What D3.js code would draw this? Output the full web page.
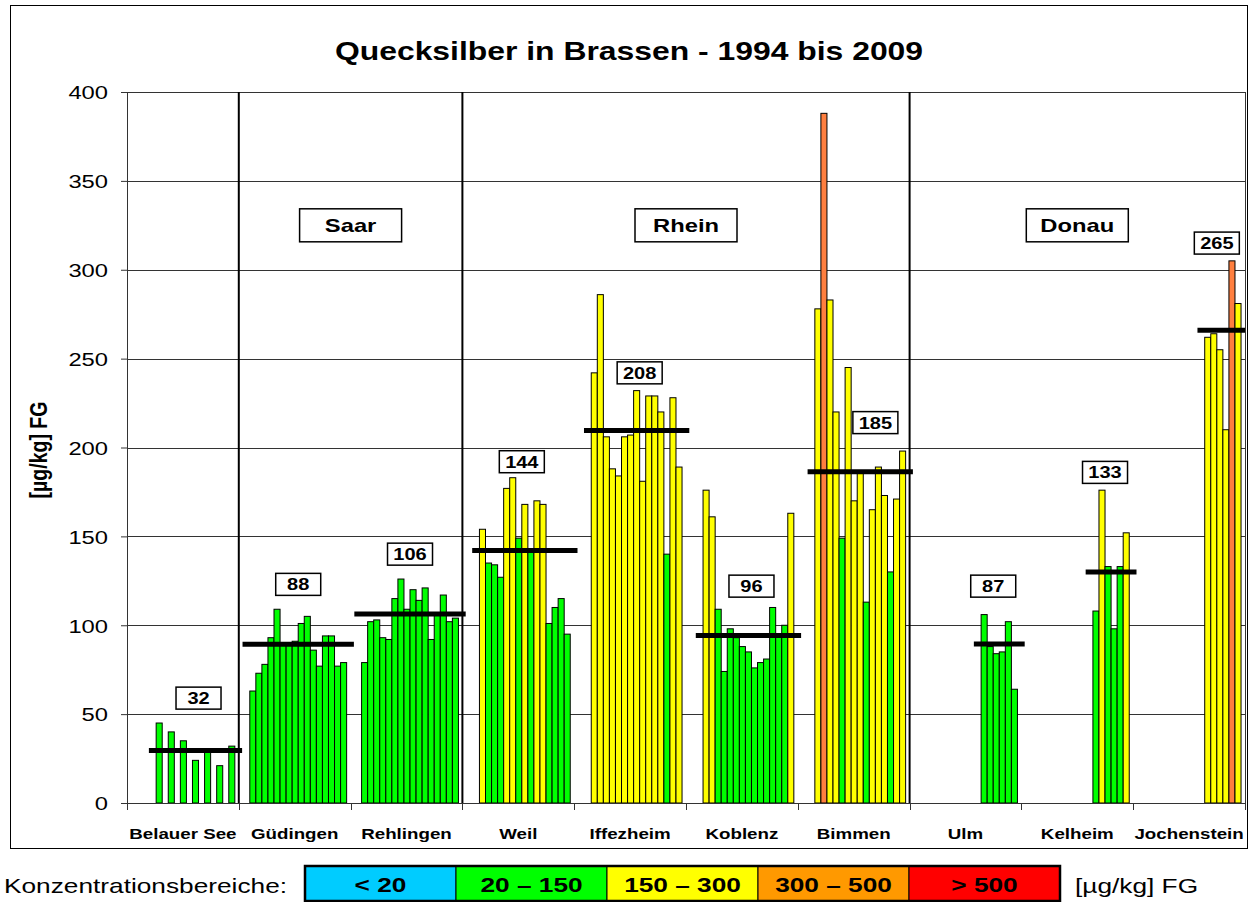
<!DOCTYPE html>
<html>
<head>
<meta charset="utf-8">
<script src="https://cdn.jsdelivr.net/npm/d3@7"></script>
<style>
  body { margin: 0; background: #fff; }
  svg text { font-family: "Liberation Sans", Arial, sans-serif; fill: #000; }
</style>
</head>
<body>
<div id="chart"></div>
<script>
const stations = ['Belauer See', 'Güdingen', 'Rehlingen', 'Weil', 'Iffezheim', 'Koblenz', 'Bimmen', 'Ulm', 'Kelheim', 'Jochenstein'];
const years = [1994, 1995, 1996, 1997, 1998, 1999, 2000, 2001, 2002, 2003, 2004, 2005, 2006, 2007, 2008, 2009];

// Hg in µg/kg FG, one value per year (null = no sample)
const belauerSee  = [null, null, null, 45, null, 40, null, 35, null, 24, null, 29, null, 21, null, 32];
const guedingen   = [63, 73, 78, 93, 109, 90, 90, 91, 101, 105, 86, 77, 94, 94, 77, 79];
const rehlingen   = [79, 102, 103, 93, 92, 115, 126, 109, 120, 114, 121, 92, 106, 117, 102, 104];
const weil        = [null, 154, 135, 134, 127, 177, 183, 149, 168, 141, 170, 168, 101, 110, 115, 95];
const iffezheim   = [null, 242, 286, 206, 188, 184, 206, 207, 232, 181, 229, 229, 220, 140, 228, 189];
const koblenz     = [null, 176, 161, 109, 74, 98, 93, 88, 85, 76, 79, 81, 110, 95, 100, 163];
const bimmen      = [null, 278, 388, 283, 220, 149, 245, 170, 186, 113, 165, 189, 173, 130, 171, 198];
const ulm         = [null, null, null, null, null, null, null, null, null, null, 106, 88, 84, 85, 102, 64];
const kelheim     = [null, null, null, null, null, null, null, null, null, null, 108, 176, 133, 98, 133, 152];
const jochenstein = [null, null, null, null, null, null, null, null, null, null, 262, 264, 255, 210, 305, 281];
const stationValues = [belauerSee, guedingen, rehlingen, weil, iffezheim, koblenz, bimmen, ulm, kelheim, jochenstein];

// black bar = mean, boxed number as printed
const meanLine  = [29.5, 89.3, 106.3, 142, 209.5, 94.3, 186.4, 89.4, 130, 266];
const meanLabel = [32, 88, 106, 144, 208, 96, 185, 87, 133, 265];
const labelYear  = [2004, 2002, 2002, 2002, 2003, 2003, 2005, 2006, 2006, 2006];
const labelLevel = [59, 123, 140, 192, 242, 122, 214, 122, 186, 315];

const rivers     = ['Saar', 'Rhein', 'Donau'];
const riverFirst = ['Güdingen', 'Weil', 'Ulm'];
const riverLast  = ['Rehlingen', 'Bimmen', 'Jochenstein'];
const riverLevel = 325;

const yTicks = [0, 50, 100, 150, 200, 250, 300, 350, 400];

const rangeLabels = ['< 20', '20 – 150', '150 – 300', '300 – 500', '> 500'];
const rangeLimits = [20, 150, 300, 500];
const rangeColors = ['#00ccff', '#00ff00', '#ffff00', '#ff9900', '#ff0000'];
const barColors   = ['#00ccff', '#00ff00', '#ffff00', '#ff7f3f', '#ff0000'];

const width = 1250, height = 902;
const plot = { left: 127, right: 1245, top: 92, bottom: 803 };
const SX = 1.25; // the original picture is stretched sideways

const svg = d3.select('#chart').append('svg')
  .attr('width', width)
  .attr('height', height);

const x = d3.scaleBand().domain(stations).range([plot.left, plot.right]);
const xYear = d3.scaleBand().domain(years).range([0, x.bandwidth()])
  .paddingOuter(1.236).align(0.735);
const y = d3.scaleLinear().domain([0, 400]).range([plot.bottom, plot.top]);
const color = d3.scaleThreshold().domain(rangeLimits).range(barColors);

function wideText(parent, px, py) {
  return parent.append('text')
    .attr('transform', `translate(${px},${py}) scale(${SX},1)`);
}

// chart frame
svg.append('rect')
  .attr('x', 10.5).attr('y', 5.5)
  .attr('width', 1237).attr('height', 843)
  .attr('fill', 'none').attr('stroke', '#000');

wideText(svg, 629, 60)
  .attr('text-anchor', 'middle')
  .attr('font-size', 25.5)
  .attr('font-weight', 'bold')
  .text('Quecksilber in Brassen - 1994 bis 2009');

// gridlines
svg.append('g').selectAll('line')
  .data(yTicks.filter(t => t > 0))
  .join('line')
  .attr('x1', plot.left).attr('x2', plot.right)
  .attr('y1', d => Math.round(y(d)) + 0.5).attr('y2', d => Math.round(y(d)) + 0.5)
  .attr('stroke', '#333').attr('stroke-width', 1);

// bars
const bars = [];
stations.forEach((s, i) => {
  years.forEach((yr, j) => {
    const v = stationValues[i][j];
    if (v != null) bars.push({ station: s, year: yr, value: v });
  });
});

svg.append('g').selectAll('rect')
  .data(bars)
  .join('rect')
  .attr('x', d => x(d.station) + xYear(d.year))
  .attr('width', xYear.bandwidth())
  .attr('y', d => y(d.value))
  .attr('height', d => y(0) - y(d.value))
  .attr('fill', d => color(d.value))
  .attr('stroke', '#000')
  .attr('stroke-width', 1);

// right border of plot
svg.append('line')
  .attr('x1', plot.right + 0.5).attr('x2', plot.right + 0.5)
  .attr('y1', plot.top).attr('y2', plot.bottom)
  .attr('stroke', '#333');

// river separators
svg.append('g').selectAll('line')
  .data(riverFirst)
  .join('line')
  .attr('x1', d => x(d)).attr('x2', d => x(d))
  .attr('y1', plot.top).attr('y2', plot.bottom)
  .attr('stroke', '#000').attr('stroke-width', 2);

// y axis
const yAxis = svg.append('g')
  .attr('transform', `translate(${plot.left},0)`)
  .call(d3.axisLeft(y).tickValues(yTicks).tickSize(6));
yAxis.select('.domain').attr('stroke', '#333');
yAxis.selectAll('line').attr('stroke', '#333');
yAxis.selectAll('text')
  .attr('x', null)
  .attr('dy', '0.36em')
  .attr('transform', `translate(-19,0) scale(${SX},1)`)
  .attr('font-size', 19)
  .attr('font-family', '"Liberation Sans", Arial, sans-serif');

svg.append('text')
  .attr('transform', `translate(47,450) scale(${SX},1) rotate(-90)`)
  .attr('text-anchor', 'middle')
  .attr('font-size', 19.5)
  .attr('font-weight', 'bold')
  .text('[µg/kg] FG');

// x axis
svg.append('line')
  .attr('x1', plot.left).attr('x2', plot.right)
  .attr('y1', plot.bottom + 0.5).attr('y2', plot.bottom + 0.5)
  .attr('stroke', '#333');
svg.append('g').selectAll('line')
  .data(stations.map(s => x(s)).concat([plot.right]))
  .join('line')
  .attr('x1', d => Math.round(d) + 0.5).attr('x2', d => Math.round(d) + 0.5)
  .attr('y1', plot.bottom).attr('y2', plot.bottom + 7)
  .attr('stroke', '#333');

const xLabels = svg.append('g');
stations.forEach(s => {
  wideText(xLabels, x(s) + x.bandwidth() / 2, 839)
    .attr('text-anchor', 'middle')
    .attr('font-size', 15)
    .attr('font-weight', 'bold')
    .text(s);
});

// mean bars and boxed numbers
const step = xYear.step();
stations.forEach((s, i) => {
  const present = years.filter((yr, j) => stationValues[i][j] != null);
  const first = present[0], last = present[present.length - 1];
  svg.append('line')
    .attr('x1', x(s) + xYear(first) - 1.2 * step)
    .attr('x2', Math.min(x(s) + xYear(last) + xYear.bandwidth() + 1.2 * step, plot.right))
    .attr('y1', y(meanLine[i])).attr('y2', y(meanLine[i]))
    .attr('stroke', '#000').attr('stroke-width', 5);

  const cx = x(s) + xYear(labelYear[i]);
  const cy = y(labelLevel[i]);
  svg.append('rect')
    .attr('x', cx - 22.5).attr('y', cy - 11)
    .attr('width', 45).attr('height', 22)
    .attr('fill', '#fff').attr('stroke', '#000').attr('stroke-width', 1.5);
  wideText(svg, cx, cy + 6)
    .attr('text-anchor', 'middle')
    .attr('font-size', 16)
    .attr('font-weight', 'bold')
    .text(meanLabel[i]);
});

// river name boxes
const riverBoxW = 102, riverBoxH = 33;
rivers.forEach((r, i) => {
  const cx = (x(riverFirst[i]) + x(riverLast[i]) + x.bandwidth()) / 2;
  const cy = y(riverLevel);
  svg.append('rect')
    .attr('x', cx - riverBoxW / 2).attr('y', cy - riverBoxH / 2)
    .attr('width', riverBoxW).attr('height', riverBoxH)
    .attr('fill', '#fff').attr('stroke', '#000').attr('stroke-width', 1.5);
  wideText(svg, cx, cy + 7)
    .attr('text-anchor', 'middle')
    .attr('font-size', 19)
    .attr('font-weight', 'bold')
    .text(r);
});

// legend
wideText(svg, 4, 893)
  .attr('font-size', 21)
  .text('Konzentrationsbereiche:');

const legend = svg.append('g').attr('transform', 'translate(305,866)');
const cellW = 151, cellH = 35;
legend.selectAll('rect')
  .data(rangeLabels)
  .join('rect')
  .attr('x', (d, i) => i * cellW).attr('y', 0)
  .attr('width', cellW).attr('height', cellH)
  .attr('fill', (d, i) => rangeColors[i])
  .attr('stroke', '#000').attr('stroke-width', 1);
legend.append('rect')
  .attr('x', 0).attr('y', 0)
  .attr('width', cellW * rangeLabels.length).attr('height', cellH)
  .attr('fill', 'none').attr('stroke', '#000').attr('stroke-width', 2.5);
rangeLabels.forEach((d, i) => {
  wideText(legend, i * cellW + cellW / 2, 26)
    .attr('text-anchor', 'middle')
    .attr('font-size', 21)
    .attr('font-weight', 'bold')
    .text(d);
});

wideText(svg, 1075, 893)
  .attr('font-size', 21)
  .text('[µg/kg] FG');
</script>
</body>
</html>
